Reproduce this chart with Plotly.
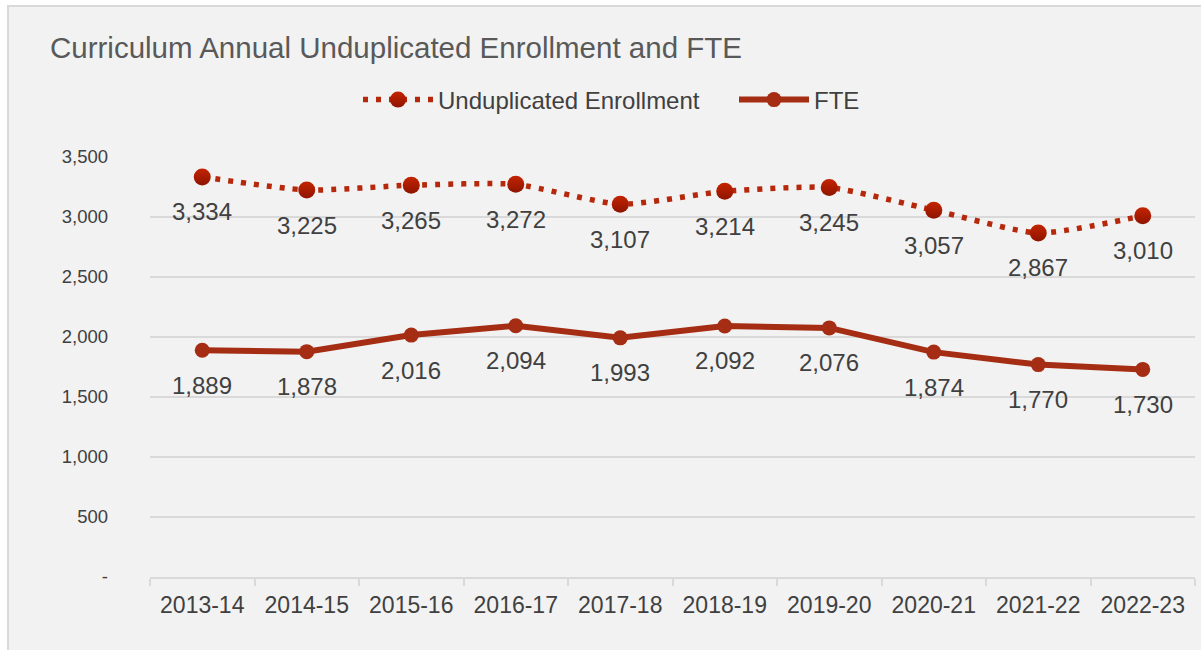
import plotly.graph_objects as go

categories = ["2013-14", "2014-15", "2015-16", "2016-17", "2017-18",
              "2018-19", "2019-20", "2020-21", "2021-22", "2022-23"]
enrollment = [3334, 3225, 3265, 3272, 3107, 3214, 3245, 3057, 2867, 3010]
fte = [1889, 1878, 2016, 2094, 1993, 2092, 2076, 1874, 1770, 1730]
y_ticks = [0, 500, 1000, 1500, 2000, 2500, 3000, 3500]
y_ticktext = ["-", "500", "1,000", "1,500", "2,000", "2,500", "3,000", "3,500"]

FONT = "Liberation Sans, Arial, sans-serif"
W, H = 1201, 650
L, R, T, B = 150, 6, 157, 73
pw, ph = W - L - R, H - T - B


def px_x(p):
    return (p - L) / pw


def px_y(p):
    return (H - B - p) / ph


fig = go.Figure()
fig.add_trace(go.Scatter(
    x=categories, y=enrollment, name="Unduplicated Enrollment",
    mode="lines+markers",
    line=dict(color="#b5280c", width=5.5, dash="5px,8px", shape="spline", smoothing=0.6),
    marker=dict(color="#c42400", size=17,
                gradient=dict(type="vertical", color="#8e1400")),
    legend="legend",
))
fig.add_trace(go.Scatter(
    x=categories, y=fte, name="FTE",
    mode="lines+markers",
    line=dict(color="#a52d13", width=6),
    marker=dict(color="#a52d13", size=15),
    legend="legend2",
))

for series in (enrollment, fte):
    for c, v in zip(categories, series):
        fig.add_annotation(x=c, y=v, text=f"{v:,}", showarrow=False,
                           yshift=-35, font=dict(size=24, color="#404040", family=FONT))

fig.add_shape(type="rect", xref="paper", yref="paper",
              x0=px_x(8), x1=px_x(1215), y0=px_y(6), y1=px_y(670),
              fillcolor="#f2f2f2", line=dict(color="#d9d9d9", width=2), layer="below")

leg_common = dict(orientation="h", xref="container", xanchor="left",
                  y=1 - 100 / H, yref="container", yanchor="middle",
                  font=dict(size=24, color="#404040", family=FONT),
                  itemwidth=70, bgcolor="rgba(0,0,0,0)")

fig.update_layout(
    width=W, height=H,
    margin=dict(l=L, r=R, t=T, b=B),
    paper_bgcolor="white", plot_bgcolor="rgba(0,0,0,0)",
    font=dict(family=FONT, color="#404040", size=18),
    title=dict(text="Curriculum Annual Unduplicated Enrollment and FTE",
               x=50 / W, xref="container", xanchor="left",
               y=1 - 48 / H, yref="container", yanchor="middle",
               font=dict(size=29.5, color="#595959", family=FONT)),
    legend=dict(x=358 / W, **leg_common),
    legend2=dict(x=734 / W, **leg_common),
    showlegend=True,
)
fig.update_xaxes(type="category", range=[-0.5, 9.5], showgrid=False,
                 showline=True, linecolor="#d9d9d9", linewidth=2,
                 ticks="outside", tickson="boundaries", ticklen=7, tickcolor="#d9d9d9",
                 tickwidth=2, ticklabelstandoff=6, tickfont=dict(size=23, color="#404040"))
fig.update_yaxes(range=[0, 3500], tickvals=y_ticks, ticktext=y_ticktext,
                 showgrid=True, gridcolor="#d9d9d9", gridwidth=1.5,
                 zeroline=False, showline=False, ticks="",
                 ticklabelstandoff=41, tickfont=dict(size=18.5, color="#404040"))

fig.write_html("out.html", config={"displayModeBar": False},
               post_script="document.body.style.margin='0';")
